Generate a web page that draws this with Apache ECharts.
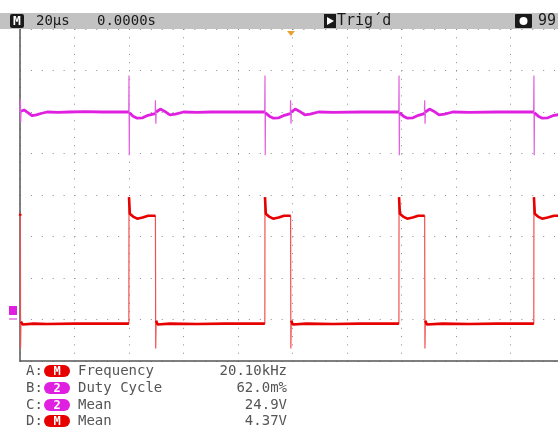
<!DOCTYPE html>
<html><head><meta charset="utf-8">
<script src="https://cdn.jsdelivr.net/npm/echarts@6/dist/echarts.min.js"></script>
<style>html,body{margin:0;padding:0;background:#fff}#c{width:558px;height:430px}</style>
</head><body><div id="c"></div>
<script>
// time axis in microseconds (20 µs/div), vertical axis in divisions (0..8)
const xTicks = [0, 20, 40, 60, 80, 100, 120, 140, 160, 180, 200];
const yTicks = [0, 1, 2, 3, 4, 5, 6, 7, 8];

// Channel 2 (magenta) trace: [time µs, divisions]
const ch2Trace = [
  [0,6.0],[0.15,6.3],[0.25,5.75],[0.4,6.02],[1.5,6.05],[3,5.98],[4.5,5.91],[6,5.93],[8,5.97],[10,6.0],[14,5.99],[18,6.0],[24,6.01],[30,6.0],[36,6.0],[39.9,6.0],
  [40.0,6.88],[40.1,4.96],[40.2,5.98],[41.5,5.9],[43,5.85],[45,5.86],[47,5.92],[49.6,5.96],
  [49.7,6.28],[49.85,5.72],[50.0,6.0],[51.5,6.07],[53,6.02],[55,5.93],[57,5.95],[60,6.0],[65,5.99],[70,6.0],[80,6.0],[89.8,6.0],
  [89.9,6.88],[90.0,4.96],[90.1,5.98],[91.5,5.9],[93,5.85],[95,5.86],[97,5.92],[99.2,5.96],
  [99.3,6.28],[99.45,5.72],[99.6,6.0],[101,6.07],[102.5,6.02],[104.5,5.93],[106.5,5.95],[109.5,6.0],[115,5.99],[125,6.0],[139.0,6.0],
  [139.1,6.88],[139.2,4.96],[139.3,5.98],[140.7,5.9],[142.2,5.85],[144.2,5.86],[146.2,5.92],[148.4,5.96],
  [148.5,6.28],[148.65,5.72],[148.8,6.0],[150.3,6.07],[151.8,6.02],[153.8,5.93],[155.8,5.95],[158.8,6.0],[165,5.99],[175,6.0],[188.5,6.0],
  [188.6,6.88],[188.7,4.96],[188.8,5.98],[190.2,5.9],[191.7,5.85],[193.7,5.86],[196,5.92],[200,5.96]
];

// Math (red) trace: [time µs, divisions]
const mathTrace = [
  [0,3.5],[0.15,3.55],[0.2,0.3],[0.35,0.95],[1,0.88],[5,0.9],[10,0.89],[20,0.9],[30,0.9],[39.95,0.9],
  [40.0,3.95],[40.3,3.55],[41.5,3.48],[43,3.43],[45,3.46],[47,3.5],[49.7,3.5],
  [49.8,0.3],[49.95,0.97],[50.5,0.88],[55,0.9],[65,0.89],[75,0.9],[89.85,0.9],
  [89.9,3.95],[90.2,3.55],[91.4,3.48],[92.9,3.43],[94.9,3.46],[96.9,3.5],[99.3,3.5],
  [99.4,0.3],[99.55,0.97],[100.1,0.88],[105,0.9],[115,0.89],[125,0.9],[139.05,0.9],
  [139.1,3.95],[139.4,3.55],[140.6,3.48],[142.1,3.43],[144.1,3.46],[146.1,3.5],[148.5,3.5],
  [148.6,0.3],[148.75,0.97],[149.3,0.88],[155,0.9],[165,0.89],[175,0.9],[188.55,0.9],
  [188.6,3.95],[188.9,3.55],[190.1,3.48],[191.6,3.43],[193.6,3.46],[196,3.5],[200,3.5]
];

// header and measurement texts
const timebase = "20µs";
const delay = "0.0000s";
const trigState = "Trig´d";
const batteryText = "99";
const measLabels = ["A:", "B:", "C:", "D:"];
const measSources = ["M", "2", "2", "M"];
const measNames = ["Frequency", "Duty Cycle", "Mean", "Mean"];
const measValues = ["20.10kHz", "62.0m%", "24.9V", "4.37V"];

// split a trace so that fast (vertical) transitions are left out of the thick stroke
function thickParts(trace) {
  const out = [];
  for (let i = 0; i < trace.length; i++) {
    if (i > 0 && trace[i][0] - trace[i-1][0] < 0.2 && Math.abs(trace[i][1] - trace[i-1][1]) > 0.2) {
      out.push([trace[i][0], '-']);
    }
    out.push(trace[i]);
  }
  return out;
}

const MONO = '"DejaVu Sans Mono", monospace';
const RED = '#e60000', MAG = '#e020e0';

const graphics = [];
graphics.push({type:'rect', shape:{x:0,y:13,width:558,height:16}, style:{fill:'#c2c2c2'}, z:10});
graphics.push({type:'rect', shape:{x:10,y:14,width:14,height:14,r:2}, style:{fill:'#1a1a1a'}, z:11});
graphics.push({type:'text', x:17, y:21.5, style:{text:'M', fill:'#fff', font:'bold 13px '+MONO, align:'center', verticalAlign:'middle'}, z:12});
graphics.push({type:'text', x:36, y:21.5, style:{text:timebase, fill:'#1a1a1a', font:'14px '+MONO, verticalAlign:'middle'}, z:12});
graphics.push({type:'text', x:97, y:21.5, style:{text:delay, fill:'#1a1a1a', font:'14px '+MONO, verticalAlign:'middle'}, z:12});
graphics.push({type:'rect', shape:{x:324,y:14,width:12,height:14}, style:{fill:'#1a1a1a'}, z:11});
graphics.push({type:'polygon', shape:{points:[[327,17],[334,21],[327,25]]}, style:{fill:'#fff'}, z:12});
graphics.push({type:'text', x:337, y:21.5, style:{text:trigState, fill:'#1a1a1a', font:'15px '+MONO, verticalAlign:'middle'}, z:12});
graphics.push({type:'rect', shape:{x:515,y:14,width:17,height:14,r:1}, style:{fill:'#1a1a1a'}, z:11});
graphics.push({type:'circle', shape:{cx:523.5,cy:21,r:4}, style:{fill:'#fff'}, z:12});
graphics.push({type:'text', x:538, y:21.5, style:{text:batteryText, fill:'#1a1a1a', font:'15px '+MONO, verticalAlign:'middle'}, z:12});
graphics.push({type:'polygon', shape:{points:[[287,31],[295,31],[291,36]]}, style:{fill:'#e8a030'}, z:12});
graphics.push({type:'rect', shape:{x:9,y:306,width:8,height:9}, style:{fill:MAG}, z:12});
graphics.push({type:'line', shape:{x1:9,y1:319,x2:17,y2:319}, style:{stroke:'#e070e0', lineWidth:1.5}, z:12});
const rowY = [371, 388, 405, 421];
for (let i = 0; i < 4; i++) {
  const y = rowY[i];
  const col = measSources[i] === 'M' ? RED : MAG;
  graphics.push({type:'text', x:26, y:y, style:{text:measLabels[i], fill:'#555', font:'14px '+MONO, verticalAlign:'middle'}});
  graphics.push({type:'rect', shape:{x:44,y:y-6,width:26,height:12,r:6}, style:{fill:col}});
  graphics.push({type:'text', x:57, y:y+0.5, style:{text:measSources[i], fill:'#fff', font:'bold 12px '+MONO, align:'center', verticalAlign:'middle'}});
  graphics.push({type:'text', x:78, y:y, style:{text:measNames[i], fill:'#555', font:'14px '+MONO, verticalAlign:'middle'}});
  graphics.push({type:'text', x:287, y:y, style:{text:measValues[i], fill:'#555', font:'14px '+MONO, align:'right', verticalAlign:'middle'}});
}

const chart = echarts.init(document.getElementById('c'), null, {renderer:'canvas'});
chart.setOption({
  animation:false,
  backgroundColor:'#fff',
  grid:{left:20, top:29, width:545, height:332, containLabel:false, outerBoundsMode:'none'},
  xAxis:{type:'value', min:xTicks[0], max:xTicks[xTicks.length-1], interval:20,
    axisLabel:{show:false}, axisTick:{show:false},
    axisLine:{show:true, onZero:false, lineStyle:{color:'#555', width:1.5}},
    splitLine:{show:true, lineStyle:{color:'#8a8a8a', width:1, type:[1,7.3]}}},
  yAxis:{type:'value', min:yTicks[0], max:yTicks[yTicks.length-1], interval:1,
    axisLabel:{show:false}, axisTick:{show:false},
    axisLine:{show:true, onZero:false, lineStyle:{color:'#555', width:1.5}},
    splitLine:{show:true, lineStyle:{color:'#8a8a8a', width:1, type:[1,9.9]}}},
  series:[
    {type:'line', data:mathTrace, showSymbol:false, lineStyle:{color:'#f05050', width:1.2}, z:3},
    {type:'line', data:thickParts(mathTrace), showSymbol:false, connectNulls:false, lineStyle:{color:RED, width:2.6}, z:3},
    {type:'line', data:ch2Trace, showSymbol:false, lineStyle:{color:'#e060e0', width:1.2}, z:4},
    {type:'line', data:thickParts(ch2Trace), showSymbol:false, connectNulls:false, lineStyle:{color:MAG, width:2.8}, z:4}
  ],
  graphic:graphics
});
</script></body></html>
